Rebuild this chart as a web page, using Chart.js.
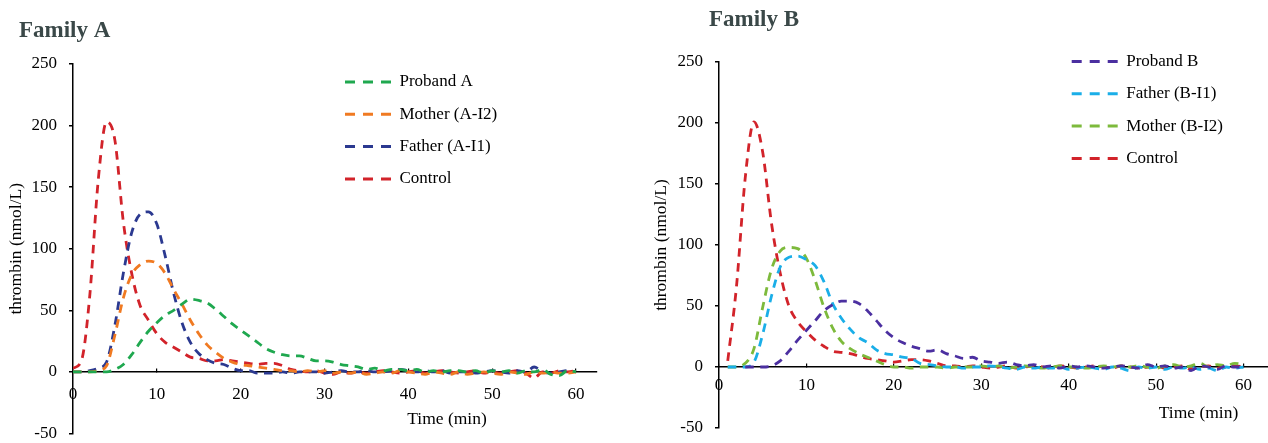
<!DOCTYPE html>
<html>
<head>
<meta charset="utf-8">
<title>Thrombin generation - Family A / Family B</title>
<script src="https://cdn.jsdelivr.net/npm/chart.js@4.4.1/dist/chart.umd.min.js"></script>
<style>
  body { margin: 0; background: #fff; }
  .painel { position: absolute; top: 0; width: 634px; height: 443px; }
</style>
</head>
<body>
<div class="painel" style="left:0"><canvas id="graficoA"></canvas></div>
<div class="painel" style="left:634px"><canvas id="graficoB"></canvas></div>
<script>
// tempo (min) e marcas dos eixos
const tempos = [0,1,2,3,4,5,6,7,8,9,10,11,12,13,14,15,16,17,18,19,20,21,22,23,24,25,26,27,28,29,30,
  31,32,33,34,35,36,37,38,39,40,41,42,43,44,45,46,47,48,49,50,51,52,53,54,55,56,57,58,59,60];
const xTicks = [0, 10, 20, 30, 40, 50, 60];
const yTicks = [-50, 0, 50, 100, 150, 200, 250];

// Family A (thrombin nmol/L)
const probandA = [0,0,0,0,0, 2,6,14,24,33, 40,46,50,55,59, 58,56,51,45,39, 34,29,24,19,16, 14,13,13,11,9,
  9,8,6,5,4, 2,3,1,2,2, 1,2,0,1,0, 1,1,0,1,-1, 1,0,1,-1,1, 0,2,-2,-3,1, 0];
const maeA = [0,0,0,1,5, 30,60,79,87,90, 88,80,67,55,42, 31,22,16,11,8, 6,5,4,3,2, 1,1,0,1,0,
  1,-1,0,-1,0, -2,-1,0,-1,1, 0,-1,-2,0,-1, -2,0,-2,-1,0, -1,-2,0,-1,-2, 0,-1,0,-1,-1, 0];
const paiA = [0,0,1,3,8, 38,80,113,128,130, 120,94,64,40,24, 15,10,7,6,3, 1,1,-1,-1,-1, 0,-1,0,0,0,
  -1,0,1,0,0, 1,0,0,1,2, 1,0,1,0,1, -1,0,0,-1,0, 1,0,-1,1,0, 4,0,-1,0,1, 0];
const controleA = [3,9,62,155,203, 188,122,80,54,42, 31,24,20,16,12, 11,9,9,10,9, 8,7,6,7,7, 5,2,1,0,1,
  -1,-2,0,-1,0, -1,0,1,0,-1, 0,1,-1,0,1, 0,-1,0,1,-1, 0,-1,0,1,-1, -5,0,-1,1,0, 1];

// Family B
const probandB = [null,null,null,0,0, 0,1,5,13,22, 30,38,46,51,54, 54,52,46,38,30, 24,20,17,15,13, 14,11,9,7,8,
  5,4,3,4,2, 1,2,0,1,-1, 1,0,1,0,-1, 0,1,0,-1,2, 0,1,-1,0,-3, 1,0,-2,1,0, 0];
const paiB = [null,0,0,0,4, 27,58,82,90,91, 88,83,70,52,40, 31,24,20,14,11, 10,8,7,3,2, 1,0,0,-1,0,
  0,1,0,-1,-2, 0,-1,0,-1,0, -2,-1,0,-1,-2, 0,-1,-3,0,-1, 0,-2,0,-1,0, -2,-1,-3,0,-1, 0];
const maeB = [null,0,0,3,15, 49,80,95,98,97, 89,71,49,32,21, 15,11,8,5,2, 0,0,-1,0,0, 0,-1,0,0,0,
  1,0,1,-1,0, 1,0,-1,0,1, 0,0,-1,0,1, 0,1,0,1,0, -1,1,2,0,1, 3,0,2,1,3, 2];
const controleB = [null,5,66,155,201, 176,118,77,50,37, 29,22,17,13,12, 11,9,7,6,5, 4,5,6,6,5, 3,1,1,0,1,
  0,-1,0,1,-1, 0,1,0,-1,1, 0,-1,0,1,0, -1,1,0,-1,0, 1,-1,0,1,-2, 0,1,-1,0,1, 0];

Chart.defaults.font.family = "'Liberation Serif', 'Times New Roman', serif";
Chart.defaults.color = "#000";

function serie(label, valores, cor) {
  return {
    label: label,
    data: tempos.map((t, i) => ({ x: t, y: valores[i] })),
    borderColor: cor,
    backgroundColor: cor,
    borderWidth: 2.8,
    borderDash: [8.5, 6.5],
    pointRadius: 0,
    fill: false,
    cubicInterpolationMode: "monotone",
  };
}

// textos soltos (titulo e eixo x) e posicao da legenda
function extras(cfg) {
  return {
    id: "extras",
    beforeDraw(chart) {
      const leg = chart.legend;
      leg.left = cfg.legenda.left;
      leg.top = cfg.legenda.top;
      leg.right = chart.width;
      leg.bottom = chart.height;
    },
    afterDraw(chart) {
      const ctx = chart.ctx;
      ctx.save();
      ctx.fillStyle = "#3a4848";
      ctx.font = "bold 23px 'Liberation Serif'";
      ctx.textAlign = "left";
      ctx.textBaseline = "alphabetic";
      ctx.fillText(cfg.titulo, cfg.tituloX, cfg.tituloY);
      ctx.fillStyle = "#000";
      ctx.font = "17.5px 'Liberation Serif'";
      ctx.textAlign = "center";
      ctx.textBaseline = "middle";
      ctx.fillText("Time (min)", cfg.tempoX, cfg.tempoY);
      ctx.restore();
    },
  };
}

function criarGrafico(id, datasets, cfg) {
  new Chart(document.getElementById(id), {
    type: "line",
    data: { datasets: datasets },
    options: {
      responsive: true,
      maintainAspectRatio: false,
      animation: false,
      events: [],
      layout: { padding: cfg.padding },
      plugins: {
        tooltip: { enabled: false },
        legend: {
          position: "chartArea",
          align: "start",
          labels: {
            usePointStyle: true,
            pointStyle: "line",
            pointStyleWidth: 46,
            padding: 15.3,
            font: { size: 17 },
            color: "#000",
            generateLabels: (chart) =>
              chart.data.datasets.map((ds, i) => ({
                text: ds.label,
                strokeStyle: ds.borderColor,
                fillStyle: ds.borderColor,
                lineWidth: 3,
                lineDash: [10, 8],
                pointStyle: "line",
                datasetIndex: i,
                hidden: false,
                fontColor: "#000",
              })),
          },
        },
      },
      scales: {
        x: {
          type: "linear",
          position: { y: 0 },
          min: 0,
          max: cfg.xMax,
          afterBuildTicks: (scale) => {
            scale.ticks = xTicks.map((v) => ({ value: v }));
          },
          afterFit: (scale) => {
            scale.height = 0;
            scale.paddingLeft = 0;
            scale.paddingRight = 0;
          },
          // marcas pequenas para cima do eixo
          grid: { display: true, drawOnChartArea: false, drawTicks: true, tickLength: -4, color: "#000", lineWidth: 1.2 },
          border: { display: true, color: "#000", width: 1.5 },
          ticks: { padding: cfg.xPad + 4, font: { size: 17 }, maxRotation: 0 },
        },
        y: {
          min: -50,
          max: 250,
          afterBuildTicks: (scale) => {
            scale.ticks = yTicks.map((v) => ({ value: v }));
          },
          afterFit: (scale) => {
            scale.width = cfg.yLargura;
            scale.paddingTop = 0;
            scale.paddingBottom = 0;
          },
          grid: { drawOnChartArea: false, drawTicks: true, tickLength: 4, color: "#000", lineWidth: 1.5 },
          border: { display: true, color: "#000", width: 1.5 },
          ticks: { padding: 12, font: { size: 17 } },
          title: {
            display: true,
            text: "thrombin (nmol/L)",
            font: { size: 17.5 },
            color: "#000",
            padding: { top: cfg.yTituloPad, bottom: 0 },
          },
        },
      },
    },
    plugins: [extras(cfg)],
  });
}

window.onload = () => {
  criarGrafico(
    "graficoA",
    [
      serie("Proband A", probandA, "#1fa84f"),
      serie("Mother (A-I2)", maeA, "#f07a22"),
      serie("Father (A-I1)", paiA, "#2b3990"),
      serie("Control", controleA, "#d2232a"),
    ],
    {
      padding: { left: 0, top: 64, right: 37, bottom: 9.5 },
      xMax: 62.5,
      xPad: 12.2,
      yLargura: 73,
      yTituloPad: 6.2,
      legenda: { left: 329.7, top: 58.2 },
      titulo: "Family A",
      tituloX: 19,
      tituloY: 37,
      tempoX: 447,
      tempoY: 419,
    },
  );

  criarGrafico(
    "graficoB",
    [
      serie("Proband B", probandB, "#4b2fa0"),
      serie("Father (B-I1)", paiB, "#1aaee8"),
      serie("Mother (B-I2)", maeB, "#7dba3c"),
      serie("Control", controleB, "#d2232a"),
    ],
    {
      padding: { left: 0, top: 62, right: 0, bottom: 15 },
      xMax: 62.8,
      xPad: 8.8,
      yLargura: 85,
      yTituloPad: 16.5,
      legenda: { left: 422.4, top: 37.7 },
      titulo: "Family B",
      tituloX: 75,
      tituloY: 26,
      tempoX: 564.5,
      tempoY: 413,
    },
  );
};
</script>
</body>
</html>
